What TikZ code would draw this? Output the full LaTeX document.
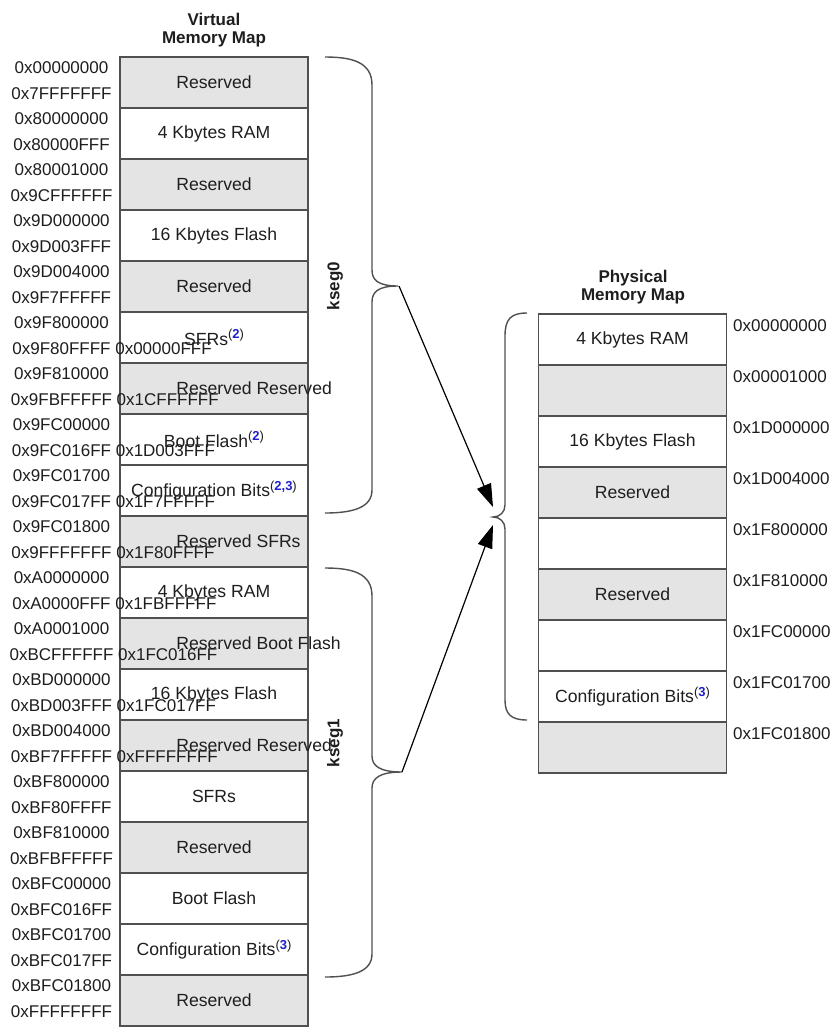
\documentclass[tikz,border=0pt]{standalone}
\usepackage{fontspec}
\setmainfont{Liberation Sans}
\usepackage{tikz}
\usetikzlibrary{arrows.meta}

\definecolor{memgray}{HTML}{E4E4E4}
\definecolor{memline}{HTML}{505050}
\definecolor{txtclr}{HTML}{1E1E1E}
\definecolor{fnblue}{HTML}{2020CC}

\newcommand{\cellfont}{\fontsize{17.6}{20}\selectfont}
\newcommand{\addrfont}{\fontsize{17}{20}\selectfont}
\newcommand{\headfont}{\fontsize{17}{18}\selectfont\bfseries}
\newcommand{\fn}[1]{\raisebox{6.5pt}{\fontsize{13}{13}\selectfont(\textcolor{fnblue}{\textbf{#1}})}}
\newcommand{\runon}[1]{\rlap{\ #1}}

\begin{document}
\begin{tikzpicture}[
    x=1pt, y=-1pt,
    cell/.style={rectangle, draw=memline, line width=1.3pt, minimum width=188pt,
                 minimum height=51pt, inner sep=0pt, font=\cellfont, text=txtclr},
    addr/.style={inner sep=0pt, font=\addrfont, text=txtclr},
    head/.style={inner sep=0pt, align=center, font=\headfont, text=txtclr},
    seglab/.style={inner sep=0pt, rotate=90, font=\headfont, text=txtclr},
    bracepath/.style={draw=memline, line width=1.4pt},
    maparrow/.style={-{Triangle[length=23pt,width=15pt]}, line width=1.2pt, black}
  ]
    \fill[white] (0,0) rectangle (839,1029);
    \useasboundingbox (0,0) rectangle (839,1029);

    % headings
    \node[head] (vhead) at (214,30) {Virtual\\Memory Map};
    \node[head] (phead) at (633,287) {Physical\\Memory Map};

    % virtual memory map
    \foreach \i/\f/\lab/\ta/\ba in {
        0/memgray/Reserved/0x00000000/0x7FFFFFFF,
        1/white/4 Kbytes RAM/0x80000000/0x80000FFF,
        2/memgray/Reserved/0x80001000/0x9CFFFFFF,
        3/white/16 Kbytes Flash/0x9D000000/0x9D003FFF,
        4/memgray/Reserved/0x9D004000/0x9F7FFFFF,
        5/white/SFRs\fn{2}/0x9F800000/0x9F80FFFF\runon{0x00000FFF},
        6/memgray/Reserved\runon{Reserved}/0x9F810000/0x9FBFFFFF\runon{0x1CFFFFFF},
        7/white/Boot Flash\fn{2}/0x9FC00000/0x9FC016FF\runon{0x1D003FFF},
        8/white/{Configuration Bits\fn{2,3}}/0x9FC01700/0x9FC017FF\runon{0x1F7FFFFF},
        9/memgray/Reserved\runon{SFRs}/0x9FC01800/0x9FFFFFFF\runon{0x1F80FFFF},
        10/white/4 Kbytes RAM/0xA0000000/0xA0000FFF\runon{0x1FBFFFFF},
        11/memgray/Reserved\runon{Boot Flash}/0xA0001000/0xBCFFFFFF\runon{0x1FC016FF},
        12/white/16 Kbytes Flash/0xBD000000/0xBD003FFF\runon{0x1FC017FF},
        13/memgray/Reserved\runon{Reserved}/0xBD004000/0xBF7FFFFF\runon{0xFFFFFFFF},
        14/white/SFRs/0xBF800000/0xBF80FFFF,
        15/memgray/Reserved/0xBF810000/0xBFBFFFFF,
        16/white/Boot Flash/0xBFC00000/0xBFC016FF,
        17/white/{Configuration Bits\fn{3}}/0xBFC01700/0xBFC017FF,
        18/memgray/Reserved/0xBFC01800/0xFFFFFFFF}{
      \node[cell, fill=\f] (v\i) at (214,{82.5+51*\i}) {\lab};
      \node[addr] (vt\i) at (61.5,{68+51*\i}) {\ta};
      \node[addr] (vb\i) at (61.5,{94+51*\i}) {\ba};
    }

    % physical memory map
    \foreach \i/\f/\lab/\pa in {
        0/white/4 Kbytes RAM/0x00000000,
        1/memgray//0x00001000,
        2/white/16 Kbytes Flash/0x1D000000,
        3/memgray/Reserved/0x1D004000,
        4/white//0x1F800000,
        5/memgray/Reserved/0x1F810000,
        6/white//0x1FC00000,
        7/white/{Configuration Bits\fn{3}}/0x1FC01700,
        8/memgray//0x1FC01800}{
      \node[cell, fill=\f] (p\i) at (632.5,{339.5+51*\i}) {\lab};
      \node[addr, anchor=west] (pa\i) at (733,{326+51*\i}) {\pa};
    }

    % segment braces
    \draw[bracepath] (325,57) .. controls (352,57) and (372,62) .. (372,85)
      -- (372,270) .. controls (372,280) and (378,286) .. (398,286)
      .. controls (378,286) and (372,292) .. (372,302)
      -- (372,490) .. controls (372,508) and (352,513) .. (325,513);
    \draw[bracepath] (325,568) .. controls (352,568) and (372,573) .. (372,596)
      -- (372,756) .. controls (372,766) and (380,772) .. (402,772)
      .. controls (380,772) and (372,778) .. (372,788)
      -- (372,954) .. controls (372,972) and (352,977) .. (325,977);
    \draw[bracepath] (527,313) .. controls (511,313) and (505,319) .. (505,336)
      -- (505,505) .. controls (505,512) and (500,517) .. (493,517)
      .. controls (500,517) and (505,522) .. (505,529)
      -- (505,700) .. controls (505,714) and (511,720) .. (527,720);

    \node[seglab] (kseg0) at (335,286) {kseg0};
    \node[seglab] (kseg1) at (335,743) {kseg1};

    \coordinate (k0tip) at (399,286);
    \coordinate (k1tip) at (402,772);
    \coordinate (ptip) at (493,517);

    \draw[maparrow] (k0tip) -- ([yshift=10pt]ptip);
    \draw[maparrow] (k1tip) -- ([yshift=-8pt]ptip);
\end{tikzpicture}
\end{document}
